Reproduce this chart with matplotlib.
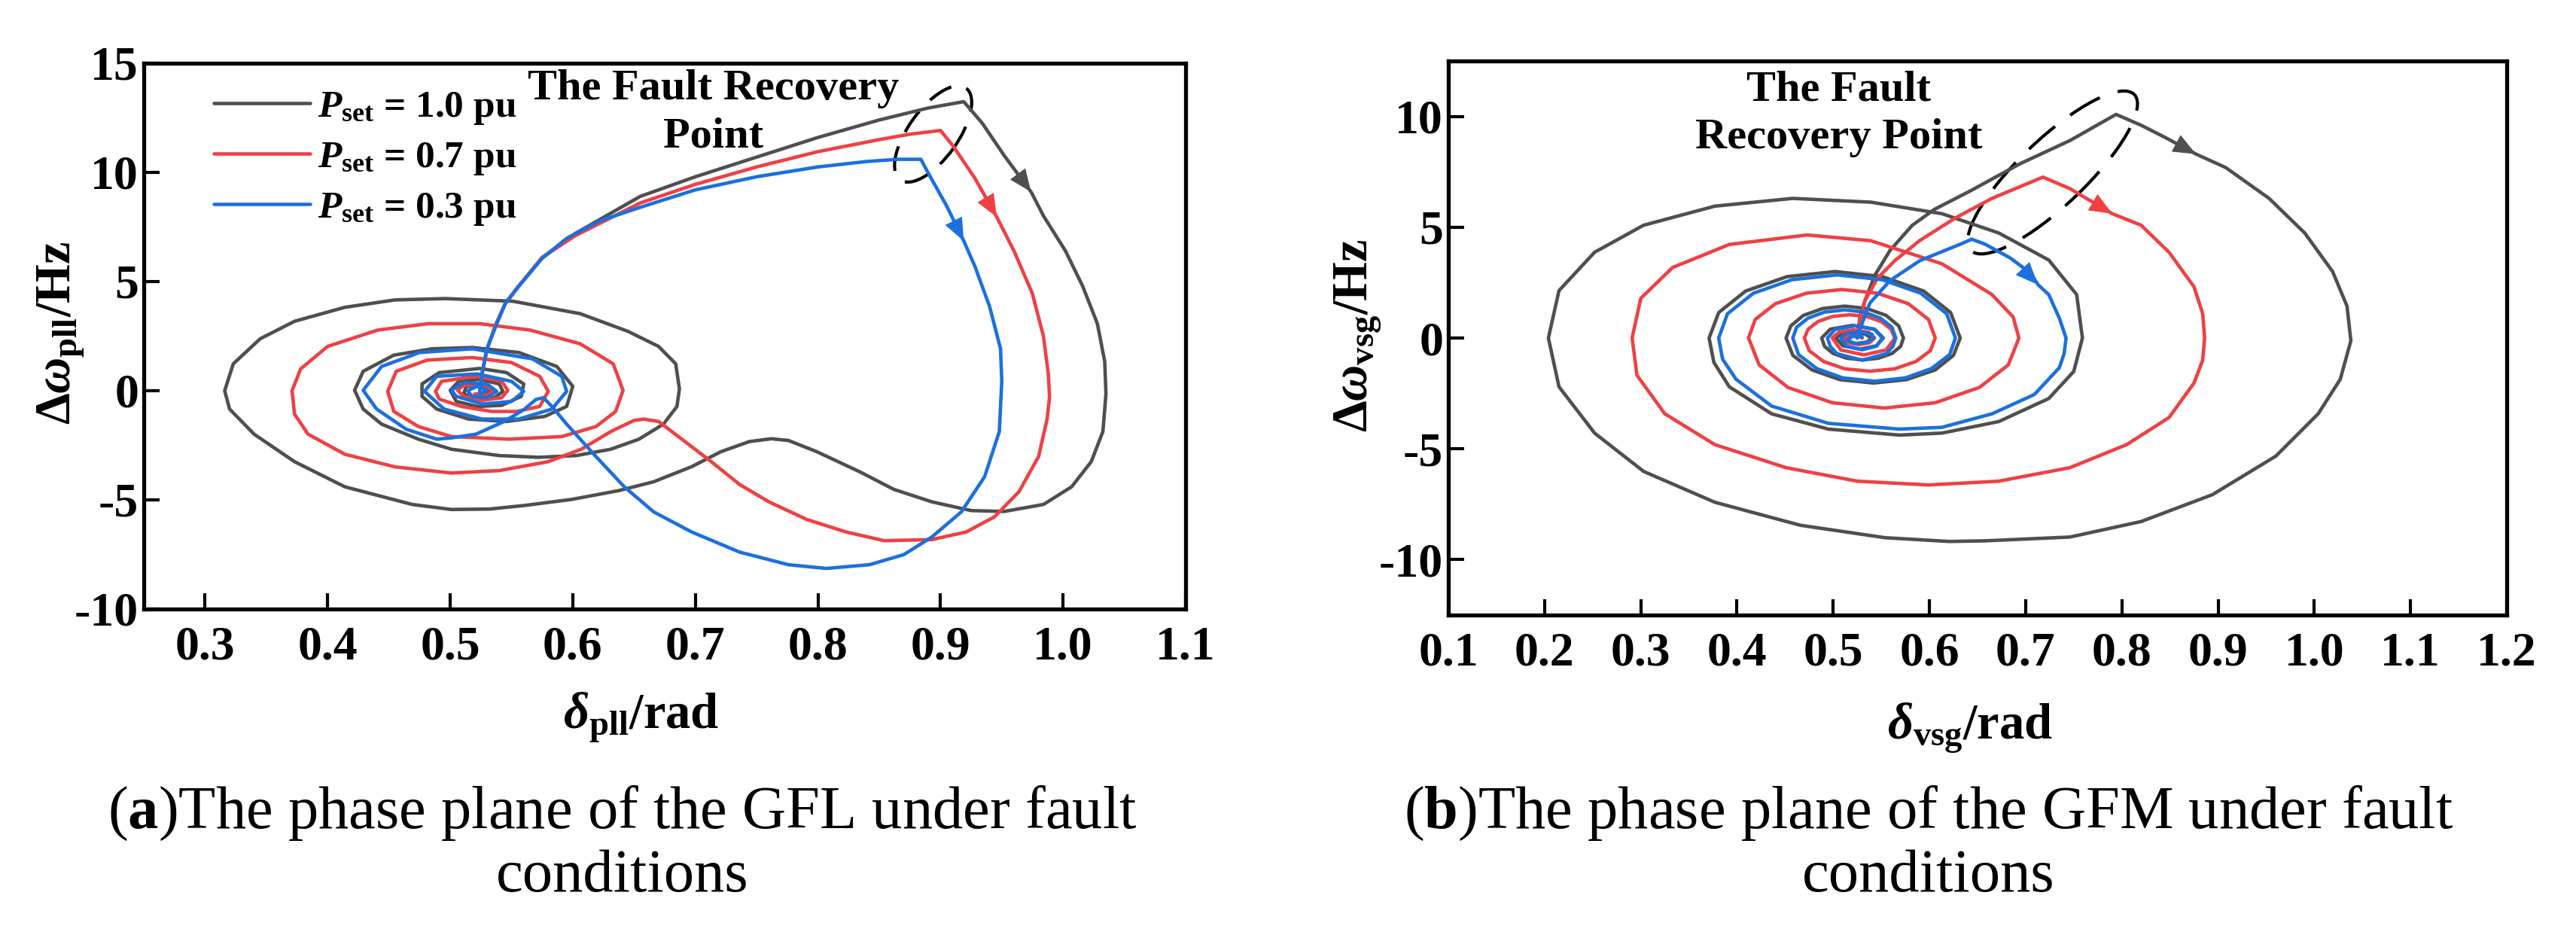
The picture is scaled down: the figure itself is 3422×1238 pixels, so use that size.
import matplotlib
matplotlib.use('Agg')
import matplotlib.pyplot as plt
from matplotlib.patches import Ellipse
from matplotlib import transforms

plt.rcParams['font.family'] = ['Liberation Serif', 'DejaVu Serif']
plt.rcParams['font.weight'] = 'bold'
plt.rcParams['mathtext.fontset'] = 'custom'
plt.rcParams['mathtext.rm'] = 'Liberation Serif:bold'
plt.rcParams['mathtext.it'] = 'Liberation Serif:italic:bold'
plt.rcParams['mathtext.bf'] = 'Liberation Serif:bold'

# ---- data ----
labels = [r'$P_{\mathrm{set}}$ = 1.0 pu', r'$P_{\mathrm{set}}$ = 0.7 pu', r'$P_{\mathrm{set}}$ = 0.3 pu']
colors = ['#4f4f4f', '#ef4043', '#1b70de']

# (a) GFL phase plane
gfl_x_10 = [0.524, 0.526, 0.530, 0.537, 0.545, 0.556, 0.575, 0.602, 0.655, 0.700, 0.750, 0.800, 0.850, 0.890, 0.919,
            0.934, 0.952, 0.974, 0.984, 1.002, 1.016, 1.028, 1.034, 1.035, 1.0325, 1.023, 1.007, 0.984, 0.952, 0.925,
            0.893, 0.862, 0.834, 0.799, 0.776, 0.762, 0.744, 0.721, 0.697, 0.666, 0.638, 0.599, 0.560, 0.532, 0.501,
            0.469, 0.414, 0.373, 0.340, 0.320, 0.316, 0.323, 0.345, 0.373, 0.414, 0.455, 0.496, 0.551, 0.606, 0.645,
            0.670, 0.684, 0.687, 0.685, 0.674, 0.654, 0.631, 0.603, 0.572, 0.540, 0.501,
            0.474, 0.444, 0.429, 0.422, 0.429, 0.454, 0.485, 0.518, 0.556, 0.587, 0.600, 0.595, 0.577, 0.546, 0.515,
            0.489, 0.477, 0.477, 0.491, 0.524, 0.546, 0.560, 0.558, 0.542, 0.522, 0.505, 0.500, 0.507, 0.524, 0.540,
            0.543, 0.536, 0.522, 0.511, 0.513, 0.526, 0.534, 0.530, 0.522]
gfl_y_10 = [0.0, 0.8, 1.9, 3.0, 4.0, 4.8, 6.1, 7.2, 8.9, 9.8, 10.7, 11.6, 12.4, 12.95, 13.24,
            12.26, 10.77, 9.1, 8.01, 6.40, 4.79, 3.07, 1.34, -0.15, -1.87, -3.25, -4.40, -5.21, -5.53, -5.49,
            -5.09, -4.52, -3.71, -2.79, -2.28, -2.2, -2.33, -2.79, -3.48, -4.17, -4.57, -4.98, -5.26, -5.42, -5.44,
            -5.21, -4.40, -3.25, -1.99, -0.84, 0.0, 1.23, 2.38, 3.18, 3.82, 4.16, 4.22, 4.10, 3.53, 2.72,
            2.03, 1.23, 0.08, -0.72, -1.53, -2.22, -2.68, -2.97, -3.05, -2.97, -2.68,
            -2.22, -1.53, -0.84, 0.02, 0.89, 1.63, 1.92, 1.98, 1.75, 1.11, 0.2, -0.72, -1.18, -1.41, -1.30,
            -0.84, -0.26, 0.31, 0.83, 1.02, 0.83, 0.31, -0.26, -0.67, -0.72, -0.49, 0.02, 0.43, 0.52, 0.31,
            -0.03, -0.32, -0.38, -0.15, 0.2, 0.25, 0.08, -0.15, -0.15]

gfl_x_07 = [0.524, 0.526, 0.530, 0.537, 0.545, 0.556, 0.575, 0.602, 0.655, 0.700, 0.750, 0.800, 0.850, 0.875, 0.900,
            0.910, 0.928, 0.946, 0.960, 0.975, 0.984, 0.988, 0.989, 0.987, 0.980, 0.964, 0.944, 0.921, 0.893, 0.854,
            0.823, 0.791, 0.760, 0.736, 0.713, 0.689, 0.670, 0.658, 0.650, 0.631, 0.607, 0.580, 0.540, 0.501,
            0.455, 0.414, 0.384, 0.373, 0.371, 0.378, 0.400, 0.441, 0.482, 0.524, 0.565, 0.606, 0.633, 0.641,
            0.635, 0.619, 0.591, 0.548, 0.501,
            0.474, 0.454, 0.449, 0.456, 0.481, 0.518, 0.550, 0.573, 0.580, 0.573, 0.554, 0.534, 0.509, 0.491,
            0.488, 0.493, 0.521, 0.542, 0.547, 0.542, 0.526, 0.511, 0.506, 0.511, 0.526, 0.536, 0.530, 0.520]
gfl_y_07 = [0.0, 0.8, 1.9, 3.0, 4.0, 4.8, 6.1, 7.1, 8.6, 9.45, 10.25, 10.95, 11.5, 11.75, 11.92,
            11.23, 9.74, 7.95, 6.40, 4.45, 2.49, 0.77, -0.3, -1.30, -3.02, -4.63, -5.78, -6.47, -6.82, -6.87,
            -6.47, -5.90, -5.09, -4.29, -3.25, -2.22, -1.41, -1.30, -1.36, -1.87, -2.68, -3.25, -3.66, -3.77,
            -3.49, -2.91, -1.99, -1.07, 0.0, 1.0, 2.03, 2.78, 3.07, 3.07, 2.78, 2.15, 1.23, 0.02,
            -0.95, -1.64, -2.10, -2.22, -2.10,
            -1.64, -0.95, -0.03, 0.89, 1.40, 1.52, 1.29, 0.66, -0.03, -0.72, -0.95, -0.95, -0.72, -0.38,
            -0.03, 0.43, 0.66, 0.43, 0.02, -0.32, -0.44, -0.26, 0.02, 0.25, 0.25, 0.02, -0.2, -0.15]

gfl_x_03 = [0.524, 0.526, 0.530, 0.538, 0.545, 0.556, 0.575, 0.595, 0.622, 0.655, 0.700, 0.750, 0.800, 0.840, 0.865, 0.884,
            0.890, 0.905, 0.919, 0.928, 0.940, 0.949, 0.950, 0.948, 0.936, 0.917, 0.893, 0.870, 0.842, 0.807,
            0.776, 0.736, 0.697, 0.666, 0.642, 0.619, 0.595, 0.583, 0.576, 0.570, 0.560, 0.544, 0.521, 0.501,
            0.489, 0.464, 0.440, 0.429, 0.444, 0.475, 0.518, 0.567, 0.591, 0.595, 0.583, 0.556, 0.526, 0.495,
            0.479, 0.489, 0.522, 0.550, 0.560, 0.550, 0.526, 0.505, 0.501, 0.511, 0.530, 0.538, 0.530, 0.518,
            0.514, 0.522, 0.530, 0.524]
gfl_y_03 = [0.0, 0.77, 1.92, 3.07, 4.0, 4.79, 6.06, 6.98, 7.78, 8.4, 9.2, 9.8, 10.25, 10.5, 10.6, 10.6,
            9.97, 8.47, 6.86, 5.71, 3.87, 1.92, 0.43, -1.87, -3.94, -5.55, -6.70, -7.51, -7.97, -8.14,
            -7.97, -7.39, -6.47, -5.55, -4.40, -3.02, -1.53, -0.72, -0.32, -0.40, -0.87, -1.41, -1.99, -2.16,
            -2.22, -1.76, -0.84, 0.02, 1.11, 1.75, 1.92, 1.46, 0.66, -0.03, -0.84, -1.30, -1.30, -0.84,
            -0.03, 0.66, 0.77, 0.43, -0.03, -0.49, -0.61, -0.26, 0.02, 0.37, 0.31, -0.03, -0.32, -0.26,
            0.0, 0.2, 0.02, -0.15]

# (b) GFM phase plane
gfm_x_10 = [0.525, 0.528, 0.533, 0.543, 0.559, 0.582, 0.605, 0.643, 0.694, 0.746, 0.794,
            0.820, 0.845, 0.877, 0.908, 0.953, 0.990, 1.019, 1.034, 1.038, 1.027, 1.004, 0.960, 0.894, 0.820,
            0.746, 0.658, 0.621, 0.554, 0.466, 0.377, 0.303, 0.252, 0.215, 0.204, 0.215, 0.252, 0.303, 0.377,
            0.458, 0.539, 0.613, 0.672, 0.724, 0.753, 0.759, 0.750, 0.724, 0.672, 0.613, 0.569, 0.495, 0.436,
            0.392, 0.376, 0.371,
            0.381, 0.409, 0.452, 0.502, 0.551, 0.594, 0.622, 0.632,
            0.625, 0.606, 0.576, 0.542, 0.507, 0.478, 0.458, 0.451,
            0.456, 0.469, 0.489, 0.512, 0.535, 0.555, 0.568, 0.573,
            0.570, 0.561, 0.547, 0.531, 0.514, 0.500, 0.491, 0.488,
            0.497, 0.520, 0.543, 0.552,
            0.545, 0.528, 0.510, 0.503,
            0.508, 0.520, 0.533, 0.540,
            0.535, 0.525, 0.515, 0.512, 0.520, 0.528, 0.530]
gfm_y_10 = [0.0, 1.0, 1.68, 2.81, 3.95, 5.08, 5.8, 6.65, 7.86, 8.91, 10.09,
            9.6, 9.05, 8.3, 7.69, 6.30, 4.74, 3.0, 1.44, -0.12, -1.86, -3.42, -5.33, -7.07, -8.28,
            -8.98, -9.15, -9.18, -9.01, -8.45, -7.41, -6.02, -4.29, -2.2, 0.0, 2.14, 3.87, 5.09, 5.95,
            6.30, 6.13, 5.61, 4.74, 3.52, 1.96, 0.0, -1.51, -2.73, -3.77, -4.29, -4.38, -4.11, -3.42,
            -2.2, -1.1, 0.0,
            1.15, 2.12, 2.77, 3.0, 2.77, 2.12, 1.15, 0.0,
            -0.78, -1.44, -1.88, -2.03, -1.88, -1.44, -0.78, 0.0,
            0.55, 1.02, 1.33, 1.44, 1.33, 1.02, 0.55, 0.0,
            -0.38, -0.70, -0.91, -0.99, -0.91, -0.70, -0.38, 0.0,
            0.40, 0.57, 0.40, 0.0,
            -0.35, -0.5, -0.35, 0.0,
            0.18, 0.25, 0.18, 0.0,
            -0.18, -0.25, -0.18, 0.0, 0.1, 0.08, 0.0]

gfm_x_07 = [0.525, 0.527, 0.533, 0.546, 0.564, 0.590, 0.627, 0.665, 0.718,
            0.746, 0.790, 0.820, 0.849, 0.875, 0.884, 0.886, 0.884, 0.875, 0.849, 0.805, 0.746, 0.672, 0.599,
            0.525, 0.451, 0.377, 0.325, 0.296, 0.291, 0.300, 0.333, 0.392, 0.473, 0.539, 0.613, 0.665, 0.687,
            0.693,
            0.682, 0.652, 0.606, 0.553, 0.499, 0.453, 0.423, 0.412,
            0.419, 0.440, 0.472, 0.509, 0.546, 0.578, 0.599, 0.606,
            0.601, 0.586, 0.564, 0.538, 0.512, 0.490, 0.475, 0.470,
            0.474, 0.484, 0.499, 0.517, 0.535, 0.550, 0.560, 0.564,
            0.555, 0.532, 0.508, 0.499,
            0.506, 0.521, 0.537, 0.543,
            0.538, 0.527, 0.515, 0.510, 0.518, 0.528, 0.530]
gfm_y_07 = [0.0, 0.66, 1.68, 2.7, 3.49, 4.4, 5.42, 6.30, 7.26,
            6.74, 5.61, 5.09, 3.87, 2.31, 1.1, 0.0, -1.0, -2.03, -3.59, -4.81, -5.85, -6.46, -6.63,
            -6.46, -5.85, -4.81, -3.42, -1.68, 0.0, 1.79, 3.18, 4.22, 4.65, 4.39, 3.35, 1.96, 0.95,
            0.0,
            -1.21, -2.23, -2.92, -3.16, -2.92, -2.23, -1.21, 0.0,
            0.84, 1.55, 2.02, 2.19, 2.02, 1.55, 0.84, 0.0,
            -0.57, -1.06, -1.39, -1.5, -1.39, -1.06, -0.57, 0.0,
            0.40, 0.74, 0.97, 1.05, 0.97, 0.74, 0.40, 0.0,
            -0.54, -0.76, -0.54, 0.0,
            0.26, 0.37, 0.26, 0.0,
            -0.21, -0.3, -0.21, 0.0, 0.12, 0.1, 0.0]

gfm_x_03 = [0.525, 0.528, 0.538, 0.559, 0.590, 0.616, 0.632, 0.644,
            0.658, 0.684, 0.705, 0.713, 0.724, 0.735, 0.742, 0.740, 0.735, 0.709, 0.665, 0.613, 0.569, 0.495,
            0.436, 0.399, 0.385, 0.381,
            0.390, 0.417, 0.457, 0.504, 0.551, 0.591, 0.618, 0.627,
            0.621, 0.602, 0.575, 0.543, 0.510, 0.483, 0.464, 0.458,
            0.462, 0.474, 0.491, 0.512, 0.532, 0.549, 0.561, 0.565,
            0.562, 0.555, 0.530, 0.504, 0.497, 0.494,
            0.502, 0.523, 0.543, 0.551,
            0.545, 0.530, 0.514, 0.508,
            0.514, 0.527, 0.540, 0.542, 0.535, 0.522, 0.515, 0.520, 0.530]
gfm_y_03 = [0.0, 0.43, 1.57, 2.59, 3.49, 3.95, 4.23, 4.46,
            4.23, 3.61, 2.93, 2.4, 1.96, 0.9, 0.0, -0.7, -1.34, -2.55, -3.42, -4.03, -4.11, -3.85,
            -3.07, -1.86, -0.95, 0.0,
            1.09, 2.02, 2.63, 2.85, 2.63, 2.02, 1.09, 0.0,
            -0.75, -1.38, -1.80, -1.95, -1.80, -1.38, -0.75, 0.0,
            0.49, 0.90, 1.17, 1.27, 1.17, 0.90, 0.49, 0.0,
            -0.38, -0.71, -1.0, -0.71, -0.38, 0.0,
            0.39, 0.55, 0.39, 0.0,
            -0.37, -0.53, -0.37, 0.0,
            0.2, 0.28, 0.18, 0.0, -0.2, -0.25, -0.1, 0.08, 0.05]

# arrow heads (tail, tip) on each trajectory
gfl_arrows = [((0.9555, 10.5), (0.974, 9.1)), ((0.930, 9.5), (0.946, 7.95)), ((0.906, 8.3), (0.919, 6.86))]
gfm_arrows = [((0.845, 9.05), (0.877, 8.3)), ((0.757, 6.45), (0.790, 5.61)), ((0.690, 3.45), (0.713, 2.4))]

# fault recovery point markers (centre in data units)
gfl_recovery = (0.894, 11.76)
gfm_recovery = (0.728, 7.47)

gfl_xticks = [0.3, 0.4, 0.5, 0.6, 0.7, 0.8, 0.9, 1.0, 1.1]
gfl_yticks = [-10, -5, 0, 5, 10, 15]
gfm_xticks = [0.1, 0.2, 0.3, 0.4, 0.5, 0.6, 0.7, 0.8, 0.9, 1.0, 1.1, 1.2]
gfm_yticks = [-10, -5, 0, 5, 10]

for a, b in [(gfl_x_10, gfl_y_10), (gfl_x_07, gfl_y_07), (gfl_x_03, gfl_y_03),
             (gfm_x_10, gfm_y_10), (gfm_x_07, gfm_y_07), (gfm_x_03, gfm_y_03)]:
    assert len(a) == len(b), (len(a), len(b))

W, H = 3422, 1238
fig = plt.figure(figsize=(W / 100, H / 100), dpi=100)
ax1 = fig.add_axes([191 / W, 1 - 809 / H, 1384 / W, 725 / H])
ax2 = fig.add_axes([1924 / W, 1 - 817 / H, 1406 / W, 736 / H])


def style_axes(ax, xticks, yticks):
    ax.set_xticks(xticks)
    ax.set_xticklabels(['%.1f' % v for v in xticks])
    ax.set_yticks(yticks)
    ax.set_yticklabels([str(v) for v in yticks])
    ax.tick_params(direction='in', length=15, width=3, labelsize=46)
    ax.tick_params(axis='x', pad=16)
    ax.tick_params(axis='y', pad=5)
    for s in ax.spines.values():
        s.set_linewidth(3.8)


def draw_curves(ax, series, arrows):
    for (xs, ys), c, lab in zip(series, colors, labels):
        ax.plot(xs, ys, color=c, lw=3.3, label=lab, solid_joinstyle='round', solid_capstyle='round')
    for ((tx, ty), (hx, hy)), c in zip(arrows, colors):
        ax.annotate('', xy=(hx, hy), xytext=(tx, ty),
                    arrowprops=dict(arrowstyle='-|>,head_length=0.6,head_width=0.25', color=c,
                                    lw=0, shrinkA=0, shrinkB=0, mutation_scale=36))


def dashed_ring(ax, centre, w, h, ang, dash):
    tr = fig.dpi_scale_trans + transforms.ScaledTranslation(centre[0], centre[1], ax.transData)
    e = Ellipse((0, 0), w, h, angle=ang, transform=tr, fill=False, color='black',
                lw=3.0, linestyle=(0, dash))
    ax.add_patch(e)


# ---- panel (a) ----
draw_curves(ax1, [(gfl_x_10, gfl_y_10), (gfl_x_07, gfl_y_07), (gfl_x_03, gfl_y_03)], gfl_arrows)
dashed_ring(ax1, gfl_recovery, 1.50, 0.66, 54.4, (8, 5))
ax1.set_xlim(0.25, 1.1)
ax1.set_ylim(-10, 15)
style_axes(ax1, gfl_xticks, gfl_yticks)
ax1.set_xlabel(r'$\delta_{\mathrm{pll}}$/rad', fontsize=48, fontweight='bold')
ax1.set_ylabel(r'$\mathrm{\Delta}\omega_{\mathrm{pll}}$/Hz', fontsize=48, fontweight='bold')
ax1.xaxis.set_label_coords(0.477, -0.15)
ax1.yaxis.set_label_coords(-0.055, 0.506)
ax1.legend(loc='upper left', bbox_to_anchor=(0.067, 0.952), frameon=False, fontsize=37,
           handlelength=2.5, handletextpad=0.2, labelspacing=0.35, borderpad=0, borderaxespad=0)

# ---- panel (b) ----
draw_curves(ax2, [(gfm_x_10, gfm_y_10), (gfm_x_07, gfm_y_07), (gfm_x_03, gfm_y_03)], gfm_arrows)
dashed_ring(ax2, gfm_recovery, 3.0, 0.88, 43.6, (11, 6))
ax2.set_xlim(0.1, 1.2)
ax2.set_ylim(-12.5, 12.5)
style_axes(ax2, gfm_xticks, gfm_yticks)
ax2.set_xlabel(r'$\delta_{\mathrm{vsg}}$/rad', fontsize=48, fontweight='bold')
ax2.set_ylabel(r'$\mathrm{\Delta}\omega_{\mathrm{vsg}}$/Hz', fontsize=48, fontweight='bold')
ax2.xaxis.set_label_coords(0.493, -0.155)
ax2.yaxis.set_label_coords(-0.061, 0.504)

# annotations
fig.text(948 / W, 1 - 150 / H, 'The Fault Recovery\nPoint', fontsize=42, ha='center', va='center',
         multialignment='center', linespacing=1.3)
fig.text(2443 / W, 1 - 151 / H, 'The Fault\nRecovery Point', fontsize=42, ha='center', va='center',
         multialignment='center', linespacing=1.3)

# captions
fig.text(827 / W, 1 - 1121 / H, '(' + r'$\mathbf{a}$' + ')The phase plane of the GFL under fault\nconditions',
         fontsize=58, fontweight='normal', ha='center', va='center', multialignment='center', linespacing=1.15)
fig.text(2562 / W, 1 - 1121 / H, '(' + r'$\mathbf{b}$' + ')The phase plane of the GFM under fault\nconditions',
         fontsize=58, fontweight='normal', ha='center', va='center', multialignment='center', linespacing=1.15)

fig.savefig('out.png', dpi=100)
